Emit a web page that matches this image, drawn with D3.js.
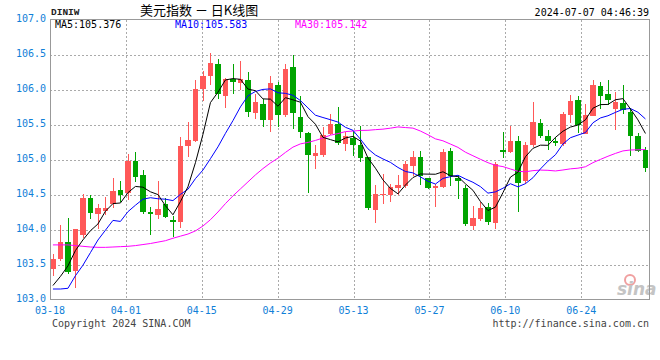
<!DOCTYPE html>
<html>
<head>
<meta charset="utf-8">
<script src="https://cdn.jsdelivr.net/npm/d3@7"></script>
<style>
  body { margin: 0; background: #fff; }
  svg { display: block; }
</style>
</head>
<body>
<div id="chart"></div>
<script>
// trading days shown on the chart
const dates = [
  "03-18","03-19","03-20","03-21","03-22","03-25","03-26","03-27","03-28","03-29",
  "04-01","04-02","04-03","04-04","04-05","04-08","04-09","04-10","04-11","04-12",
  "04-15","04-16","04-17","04-18","04-19","04-22","04-23","04-24","04-25","04-26",
  "04-29","04-30","05-01","05-02","05-03","05-06","05-07","05-08","05-09","05-10",
  "05-13","05-14","05-15","05-16","05-17","05-20","05-21","05-22","05-23","05-24",
  "05-27","05-28","05-29","05-30","05-31","06-03","06-04","06-05","06-06","06-07",
  "06-10","06-11","06-12","06-13","06-14","06-17","06-18","06-19","06-20","06-21",
  "06-24","06-25","06-26","06-27","06-28","07-01","07-02","07-03","07-04","07-05"
];

const open = [
  103.43, 103.575, 103.825, 103.406, 103.915, 104.443, 104.226, 104.269, 104.368, 104.561,
  104.528, 104.972, 104.774, 104.255, 104.208, 104.358, 104.137, 104.113, 105.189, 105.269,
  106.009, 106.189, 106.358, 105.906, 106.156, 106.094, 106.132, 105.67, 105.80, 105.571,
  106.061, 105.637, 106.316, 105.608, 105.382, 105.052, 105.071, 105.363, 105.509, 105.217,
  105.307, 105.212, 105.033, 104.283, 104.5, 104.5, 104.594, 104.627, 104.906, 105.042,
  104.731, 104.594, 104.604, 105.123, 104.736, 104.599, 104.057, 104.151, 104.316, 104.099,
  105.137, 105.104, 105.269, 104.693, 105.212, 105.524, 105.34, 105.269, 105.226, 105.637,
  105.849, 105.363, 105.623, 106.047, 105.939, 105.717, 105.811, 105.684, 105.34, 105.137
];
const high = [
  103.65, 104.066, 104.165, 104.01, 104.505, 104.495, 104.358, 104.462, 104.731, 104.689,
  105.085, 105.113, 104.854, 104.325, 104.698, 104.443, 104.198, 105.316, 105.538, 106.132,
  106.269, 106.528, 106.439, 106.165, 106.358, 106.401, 106.245, 105.929, 105.87, 106.189,
  106.108, 106.363, 106.5, 105.906, 105.39, 105.212, 105.458, 105.651, 105.745, 105.396,
  105.401, 105.481, 105.04, 104.632, 104.797, 104.656, 104.774, 104.972, 105.127, 105.127,
  104.74, 104.656, 105.156, 105.165, 104.774, 104.632, 104.335, 104.396, 104.373, 104.962,
  105.396, 105.472, 105.34, 105.255, 105.825, 105.585, 105.425, 105.316, 105.679, 105.915,
  105.906, 105.788, 106.132, 106.104, 106.142, 105.962, 106.061, 105.74, 105.373, 105.175
];
const low = [
  103.335, 103.547, 103.368, 103.17, 103.877, 104.156, 104.014, 104.208, 104.302, 104.396,
  104.42, 104.679, 104.222, 103.915, 104.151, 104.16, 103.887, 104.019, 105.033, 105.255,
  105.835, 106.071, 105.868, 105.74, 105.929, 106.0, 105.613, 105.585, 105.47, 105.396,
  105.458, 105.604, 105.434, 105.302, 104.524, 104.858, 105.033, 105.349, 105.208, 105.127,
  105.047, 104.962, 104.278, 104.09, 104.37, 104.387, 104.49, 104.594, 104.764, 104.642,
  104.575, 104.325, 104.6, 104.623, 104.429, 104.052, 103.986, 104.123, 104.061, 104.005,
  105.019, 105.09, 104.255, 104.656, 105.184, 105.302, 105.137, 105.198, 105.198, 105.528,
  105.377, 105.36, 105.62, 105.717, 105.774, 105.42, 105.646, 105.047, 105.104, 104.821
];
const close = [
  103.585, 103.825, 103.396, 104.009, 104.443, 104.24, 104.307, 104.307, 104.552, 104.49,
  104.976, 104.75, 104.255, 104.222, 104.292, 104.179, 104.104, 105.198, 105.278, 106.014,
  106.198, 106.377, 105.939, 106.156, 106.108, 106.146, 105.684, 105.821, 105.57, 106.09,
  105.642, 106.292, 105.67, 105.396, 105.061, 105.1, 105.354, 105.509, 105.236, 105.34,
  105.212, 105.019, 104.302, 104.505, 104.505, 104.604, 104.632, 104.929, 105.042, 104.759,
  104.594, 104.623, 105.108, 104.759, 104.693, 104.08, 104.16, 104.307, 104.113, 104.939,
  105.113, 105.269, 104.665, 105.212, 105.538, 105.34, 105.259, 105.231, 105.651, 105.835,
  105.486, 105.632, 106.061, 105.906, 105.849, 105.821, 105.708, 105.33, 105.123, 104.877
];

// moving average values before a full window exists on the chart
const ma5Lead = [103.2, 103.33, 103.48, 103.7];
const ma10Lead = [103.15, 103.15, 103.16, 103.34, 103.49, 103.67, 103.85, 103.99, 104.13];
const ma30Lead = [
  103.78, 103.78, 103.78, 103.77, 103.76, 103.75, 103.745, 103.745, 103.75, 103.755,
  103.76, 103.77, 103.785, 103.8, 103.82, 103.84, 103.875, 103.905, 103.935, 103.98,
  104.05, 104.14, 104.25, 104.37, 104.48, 104.58, 104.68, 104.78, 104.87
];

const yTicks = [103.0, 103.5, 104.0, 104.5, 105.0, 105.5, 106.0, 106.5, 107.0];
const xTickEvery = 10;
const maLabels = ["MA5:105.376", "MA10:105.583", "MA30:105.142"];

const W = 660, H = 360;
const plotL = 50, plotR = 649.5, plotT = 19.5, plotB = 299.5;
const red = "#ff5858", green = "#00a400", blueText = "#1080d8";

const svg = d3.select("#chart").append("svg")
  .attr("width", W).attr("height", H)
  .style("font-family", "'DejaVu Sans Mono', monospace");

const y = d3.scaleLinear().domain([103, 107]).range([plotB, plotT]);
const xBand = d3.scaleBand().domain(dates).range([49.2, 649.2]).paddingInner(0.22).paddingOuter(0.11);
const xGrid = d3.scalePoint().domain(dates).range([plotL, plotR]);
const cx = d => xBand(d) + xBand.bandwidth() / 2;

// grid
const grid = svg.append("g").attr("shape-rendering", "crispEdges")
  .attr("stroke", "#aaa").attr("stroke-dasharray", "2,2");
grid.selectAll("line.h").data(yTicks.slice(1, -1)).enter().append("line")
  .attr("x1", plotL).attr("x2", plotR)
  .attr("y1", d => Math.round(y(d)) + 0.5).attr("y2", d => Math.round(y(d)) + 0.5);
const tickDates = dates.filter((d, i) => i % xTickEvery === 0);
grid.selectAll("line.v").data(tickDates.slice(1)).enter().append("line")
  .attr("x1", d => Math.round(xGrid(d)) + 0.5).attr("x2", d => Math.round(xGrid(d)) + 0.5)
  .attr("y1", plotT).attr("y2", plotB);

// sina watermark
const wm = svg.append("g").attr("transform", "translate(617,284)");
wm.append("circle").attr("cx", 13).attr("cy", -4).attr("r", 5)
  .attr("fill", "none").attr("stroke", "#f0a0a0").attr("stroke-width", 2);
wm.append("text").attr("x", 0).attr("y", 11)
  .attr("font-family", "'DejaVu Sans', sans-serif").attr("font-style", "italic")
  .attr("font-weight", "bold").attr("font-size", 17).attr("fill", "#c4c4c4")
  .text("sina");

// candles
const idx = d3.range(dates.length);
const candles = svg.append("g").attr("shape-rendering", "crispEdges");
candles.selectAll("line").data(idx).enter().append("line")
  .attr("x1", i => Math.round(cx(dates[i])) + 0.5).attr("x2", i => Math.round(cx(dates[i])) + 0.5)
  .attr("y1", i => y(high[i])).attr("y2", i => y(low[i]))
  .attr("stroke", i => close[i] >= open[i] ? red : green);
candles.selectAll("rect").data(idx).enter().append("rect")
  .attr("x", i => xBand(dates[i]))
  .attr("width", xBand.bandwidth())
  .attr("y", i => y(Math.max(open[i], close[i])))
  .attr("height", i => Math.max(1, Math.abs(y(open[i]) - y(close[i]))))
  .attr("fill", i => close[i] >= open[i] ? red : green);

// moving averages
function movingAvg(n, lead) {
  return close.map((c, i) => i < n - 1 ? lead[i] : d3.mean(close.slice(i - n + 1, i + 1)));
}
const maSeries = [
  { values: movingAvg(30, ma30Lead), color: "#ff00ff" },
  { values: movingAvg(10, ma10Lead), color: "#0000ff" },
  { values: movingAvg(5, ma5Lead), color: "#000000" }
];
const line = d3.line().x((v, i) => cx(dates[i])).y(v => y(v));
svg.selectAll("path.ma").data(maSeries).enter().append("path")
  .attr("class", "ma")
  .attr("d", d => line(d.values))
  .attr("fill", "none").attr("stroke", d => d.color).attr("stroke-width", 1);

// frame
svg.append("rect").attr("x", plotL).attr("y", plotT)
  .attr("width", plotR - plotL).attr("height", plotB - plotT)
  .attr("fill", "none").attr("stroke", "#999").attr("shape-rendering", "crispEdges");

// axis labels
svg.selectAll("text.yl").data(yTicks).enter().append("text")
  .attr("x", 46).attr("y", d => y(d) - 1.5).attr("dy", "0.35em")
  .attr("text-anchor", "end").attr("font-size", 10).attr("fill", blueText)
  .text(d => d.toFixed(1));
svg.selectAll("text.xl").data(tickDates).enter().append("text")
  .attr("x", d => xGrid(d)).attr("y", 313.5)
  .attr("text-anchor", "middle").attr("font-size", 10).attr("fill", blueText)
  .text(d => d);

// header
svg.append("text").attr("x", 51).attr("y", 15)
  .attr("font-family", "'Liberation Mono', monospace").attr("font-weight", "bold")
  .attr("font-size", 9.5).attr("fill", "#222").text("DINIW");
svg.append("text").attr("x", 140).attr("y", 15)
  .attr("font-family", "'Noto Sans CJK SC', sans-serif").attr("font-size", 13)
  .attr("fill", "#000").text("美元指数 － 日K线图");
svg.append("text").attr("x", 649).attr("y", 15.5).attr("text-anchor", "end")
  .attr("font-size", 10).attr("fill", "#000").text("2024-07-07 04:46:39");

const maX = [55, 175, 295];
svg.selectAll("text.mal").data(maLabels).enter().append("text")
  .attr("x", (d, i) => maX[i]).attr("y", 28)
  .attr("font-size", 10).attr("fill", (d, i) => maSeries[2 - i].color)
  .text(d => d);

// footer
svg.append("text").attr("x", 52).attr("y", 327)
  .attr("font-size", 10).attr("fill", "#444").text("Copyright 2024 SINA.COM");
svg.append("text").attr("x", 649).attr("y", 327).attr("text-anchor", "end")
  .attr("font-size", 10).attr("fill", "#444").text("http://finance.sina.com.cn");
</script>
</body>
</html>
